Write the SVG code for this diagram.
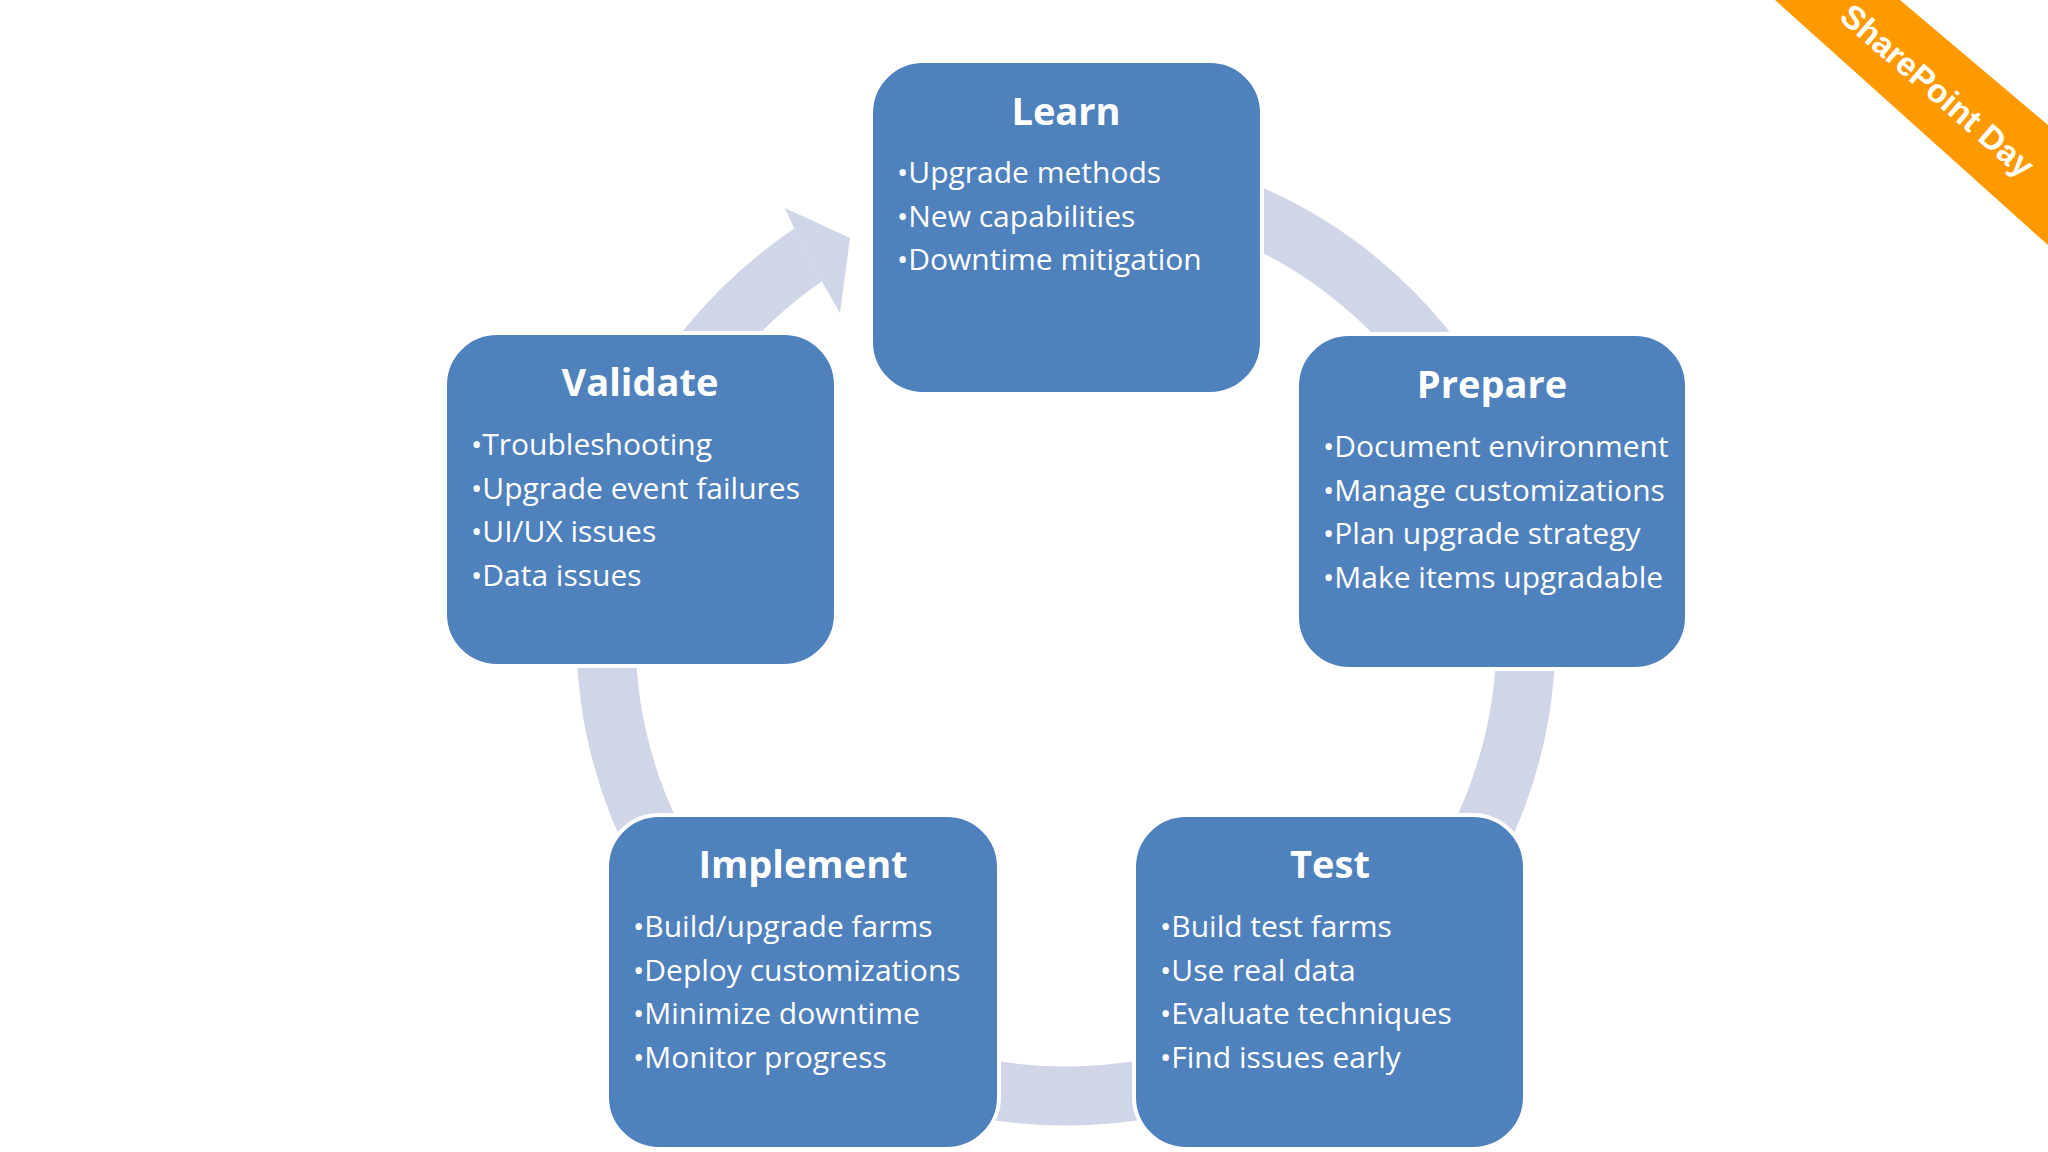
<svg xmlns="http://www.w3.org/2000/svg" width="2048" height="1152" viewBox="0 0 2048 1152">
<style>
.box{fill:#4f81bd;stroke:#fff;stroke-width:4}
.t{font-family:"Open Sans","Noto Sans",sans-serif;font-weight:bold;font-size:38px;fill:#fff;text-anchor:middle}
.b{font-family:"Open Sans","Noto Sans",sans-serif;font-size:30px;fill:#fff}
</style>
<rect width="2048" height="1152" fill="#fff"/>
<g id="connectors">
<circle cx="1066" cy="636" r="460" fill="none" stroke="#d0d6e8" stroke-width="59"/>
<polygon points="797,235 825,287 880,300 880,140 760,140" fill="#fff"/>
<polygon points="785,208 850,238 840,313 825,287 797,235" fill="#d0d6e8"/>
</g>
<g id="learn"><rect class="box" x="871" y="61" width="391" height="333" rx="52"/>
<text class="t" x="1066" y="125">Learn</text>
<text class="b" x="897" y="183">•Upgrade methods</text><text class="b" x="897" y="227">•New capabilities</text><text class="b" x="897" y="270">•Downtime mitigation</text></g>
<g id="prepare"><rect class="box" x="1297" y="334" width="390" height="335" rx="52"/>
<text class="t" x="1492" y="398">Prepare</text>
<text class="b" x="1323" y="457">•Document environment</text><text class="b" x="1323" y="501">•Manage customizations</text><text class="b" x="1323" y="544">•Plan upgrade strategy</text><text class="b" x="1323" y="588">•Make items upgradable</text></g>
<g id="validate"><rect class="box" x="445" y="333" width="391" height="333" rx="52"/>
<text class="t" x="640" y="396">Validate</text>
<text class="b" x="471" y="455">•Troubleshooting</text><text class="b" x="471" y="499">•Upgrade event failures</text><text class="b" x="471" y="542">•UI/UX issues</text><text class="b" x="471" y="586">•Data issues</text></g>
<g id="implement"><rect class="box" x="607" y="815" width="392" height="334" rx="52"/>
<text class="t" x="803" y="878">Implement</text>
<text class="b" x="633" y="937">•Build/upgrade farms</text><text class="b" x="633" y="981">•Deploy customizations</text><text class="b" x="633" y="1024">•Minimize downtime</text><text class="b" x="633" y="1068">•Monitor progress</text></g>
<g id="test"><rect class="box" x="1134" y="815" width="391" height="334" rx="52"/>
<text class="t" x="1330" y="878">Test</text>
<text class="b" x="1160" y="937">•Build test farms</text><text class="b" x="1160" y="981">•Use real data</text><text class="b" x="1160" y="1024">•Evaluate techniques</text><text class="b" x="1160" y="1068">•Find issues early</text></g>
<g id="banner">
<polygon points="1775,0 1900,0 2048,125 2048,245" fill="#ff9900"/>
<text transform="translate(1930,99) rotate(41)" style="font-family:'Liberation Sans',Arial,sans-serif;font-weight:bold;font-size:33px;fill:#fff;text-anchor:middle">SharePoint Day</text>
</g>
</svg>
